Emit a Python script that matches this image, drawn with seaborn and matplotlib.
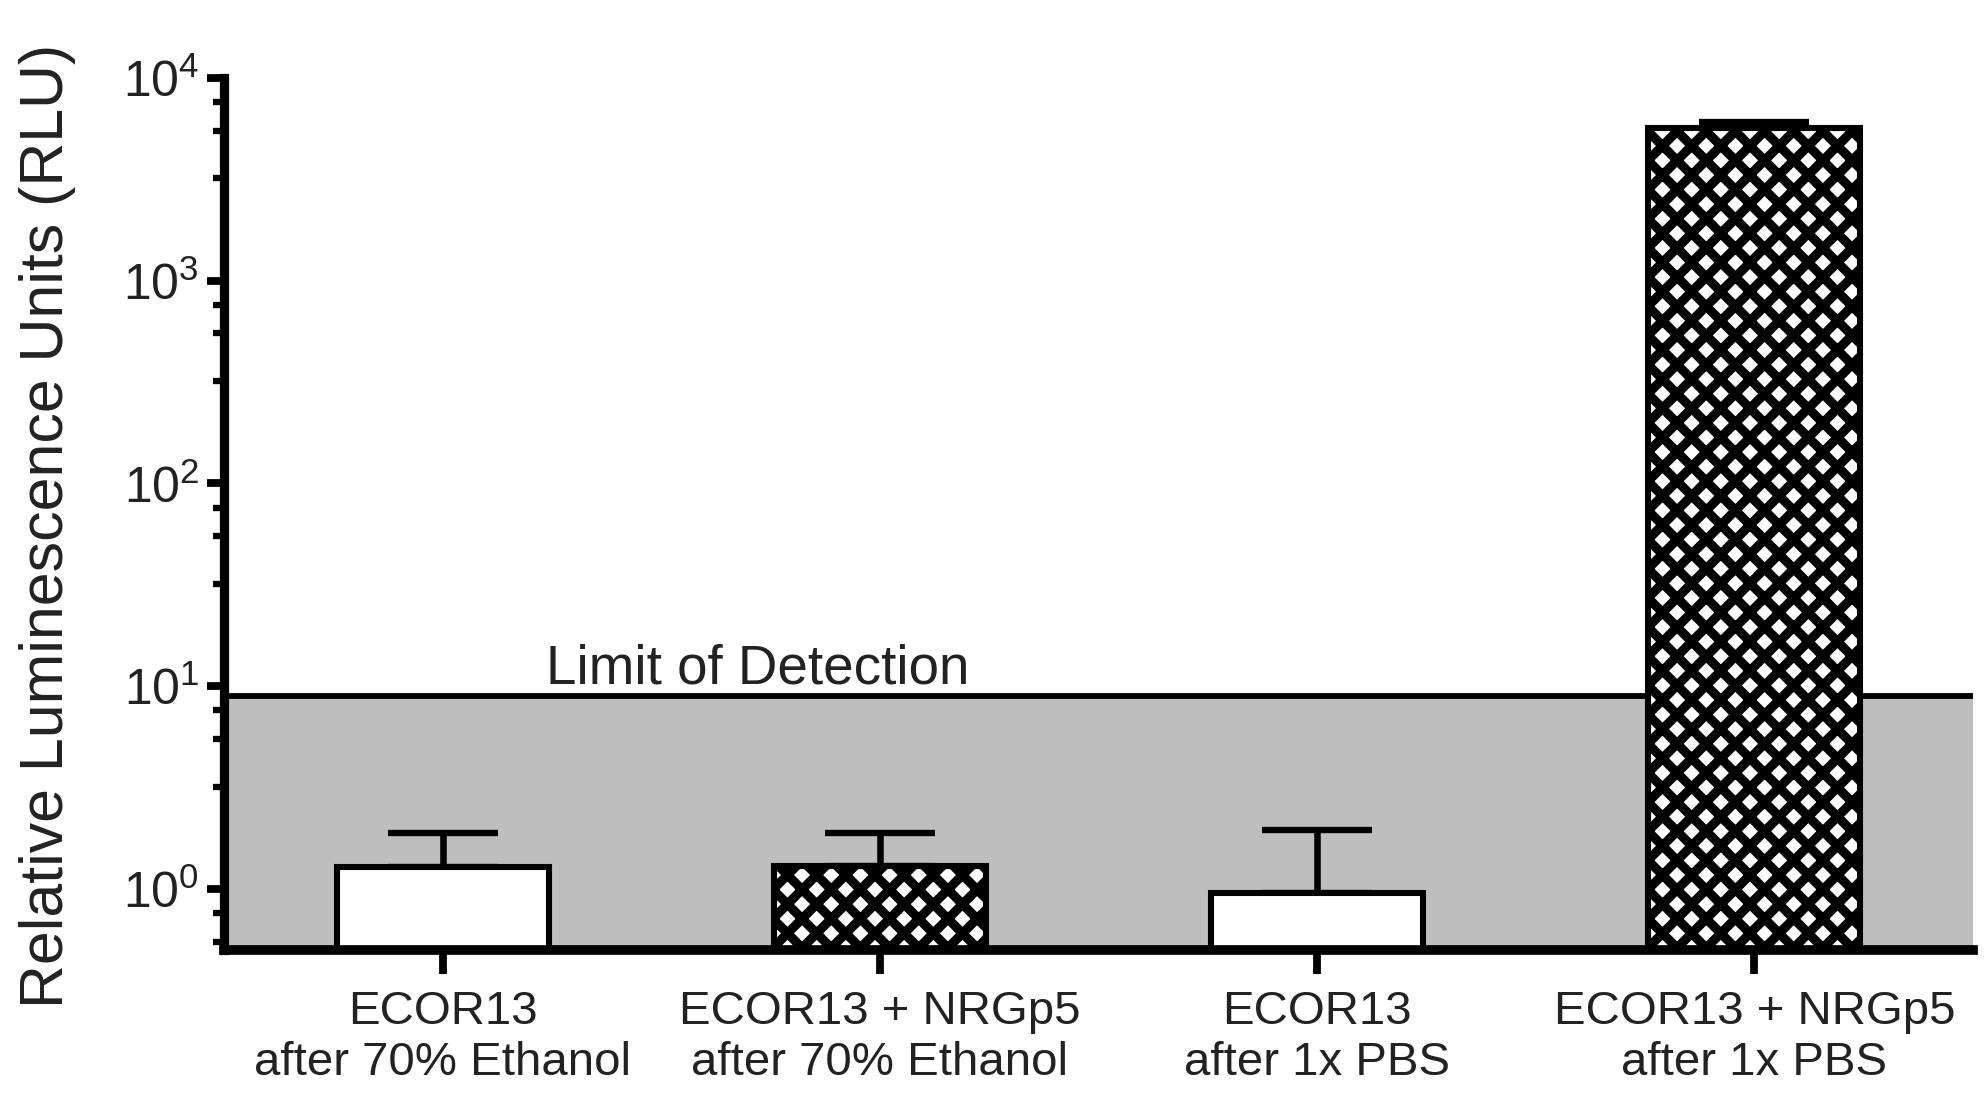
import numpy as np
import pandas as pd
import matplotlib
matplotlib.use("Agg")
import matplotlib.pyplot as plt
from matplotlib.ticker import FixedLocator, LogFormatterSciNotation, NullFormatter
import seaborn as sns

# ---------------- data ----------------
categories = [
    "ECOR13\nafter 70% Ethanol",
    "ECOR13 + NRGp5\nafter 70% Ethanol",
    "ECOR13\nafter 1x PBS",
    "ECOR13 + NRGp5\nafter 1x PBS",
]
means = [1.28, 1.30, 0.955, 5660]
err_upper = [0.61, 0.59, 1.00, 440]
hatches = ["", "xx", "", "xx"]
limit_of_detection = 8.9
y_limits = (0.5, 1e4)
major_ticks = [1, 10, 100, 1000, 10000]
minor_multipliers = [3.2, 5.5, 7.6]
ylabel = "Relative Luminescence Units (RLU)"
lod_label = "Limit of Detection"

# ---------------- style ----------------
sns.set_theme(style="ticks")
plt.rcParams["font.family"] = ["Liberation Sans", "DejaVu Sans"]
plt.rcParams["mathtext.fontset"] = "custom"
plt.rcParams["mathtext.rm"] = "Liberation Sans"
plt.rcParams["mathtext.it"] = "Liberation Sans:italic"
plt.rcParams["mathtext.bf"] = "Liberation Sans:bold"
plt.rcParams["hatch.linewidth"] = 3.8
plt.rcParams["hatch.color"] = "black"

TEXT = "#222222"
DPI = 175
W, H = 1986, 1101
fig = plt.figure(figsize=(W / DPI, H / DPI), dpi=DPI)
ax = fig.add_axes([224 / W, 1 - 950 / H, (1973 - 224) / W, (950 - 78) / H])

df = pd.DataFrame({"group": categories, "rlu": means})
sns.barplot(
    data=df, x="group", y="rlu", hue="group", palette=["white"] * len(categories),
    saturation=1, edgecolor="black", linewidth=2.5, width=0.485,
    errorbar=None, legend=False, ax=ax, zorder=3,
)
for bar, h in zip(ax.patches, hatches):
    bar.set_hatch(h)
    bar.set_edgecolor("black")

x_pos = np.arange(len(categories))
ax.errorbar(
    x_pos, means, yerr=[np.zeros(len(means)), err_upper], fmt="none",
    ecolor="black", elinewidth=2.7, capsize=22.8, capthick=2.6, zorder=2.8,
)

ax.set_yscale("log")
ax.set_ylim(*y_limits)
ax.set_xlim(-0.5, len(categories) - 0.5)

# limit of detection shading + line
ax.axhspan(y_limits[0], limit_of_detection, color="#bebebe", lw=0, zorder=0.5)
ax.axhline(limit_of_detection, color="black", lw=2.4, zorder=1)
ax.annotate(
    lod_label, xy=(0.236, limit_of_detection), xycoords="data",
    xytext=(0, 5.3), textcoords="offset points", ha="left", va="baseline",
    fontsize=22.5, color=TEXT,
)

# ticks
ax.yaxis.set_major_locator(FixedLocator(major_ticks))
ax.yaxis.set_major_formatter(LogFormatterSciNotation())
minor = [m * 10.0 ** e for e in range(-1, 4) for m in minor_multipliers]
minor = [v for v in minor if y_limits[0] <= v <= y_limits[1]]
ax.yaxis.set_minor_locator(FixedLocator(minor))
ax.yaxis.set_minor_formatter(NullFormatter())

ax.tick_params(axis="y", which="major", direction="out", length=7.2, width=3.2,
               pad=3, labelsize=20.5, labelcolor=TEXT, color="black")
ax.tick_params(axis="y", which="minor", direction="out", length=4.7, width=2.6,
               color="black")
ax.tick_params(axis="x", which="major", direction="out", length=10, width=3.2,
               pad=6.5, labelsize=19.5, labelcolor=TEXT, color="black")

for side in ("top", "right"):
    ax.spines[side].set_visible(False)
ax.spines["left"].set_linewidth(3.8)
ax.spines["bottom"].set_linewidth(4.0)
ax.spines["left"].set_color("black")
ax.spines["bottom"].set_color("black")
ax.spines["left"].set_zorder(5)
ax.spines["bottom"].set_zorder(5)

ax.set_xlabel("")
ax.set_ylabel(ylabel, fontsize=25, color=TEXT)
ax.yaxis.set_label_coords(-0.0846, 0.486)
ax.set_facecolor("white")
fig.patch.set_facecolor("white")

fig.savefig("out.png", dpi=DPI, facecolor="white")
